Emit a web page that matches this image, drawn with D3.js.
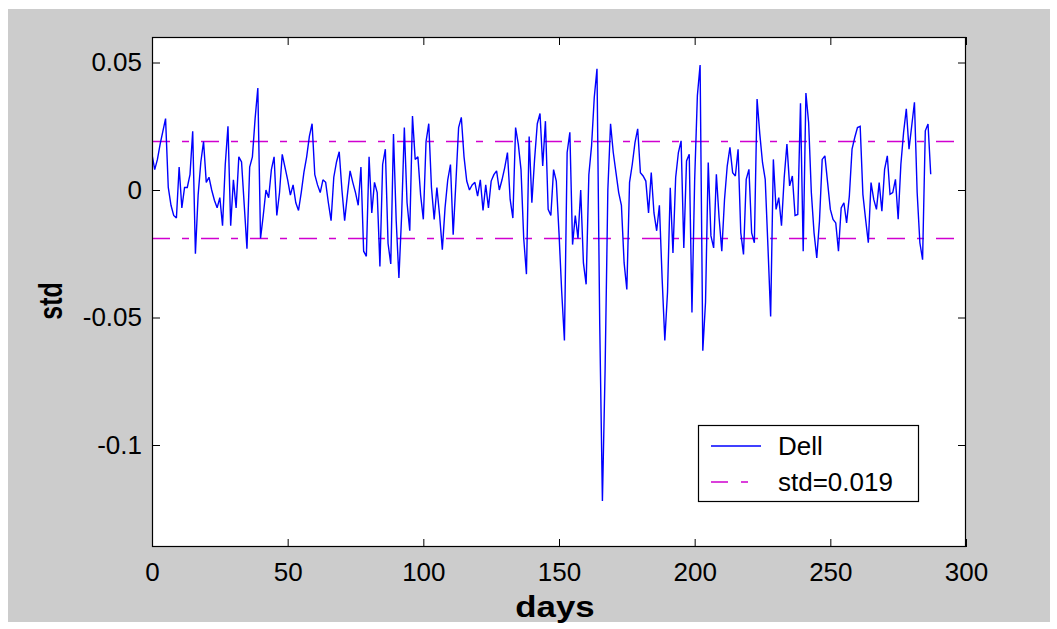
<!DOCTYPE html>
<html>
<head>
<meta charset="utf-8">
<script src="https://cdn.jsdelivr.net/npm/d3@7"></script>
<style>
  html, body { margin: 0; padding: 0; background: #ffffff; }
  svg { display: block; }
  text { font-family: "Liberation Sans", Arial, Helvetica, sans-serif; fill: #000; }
</style>
</head>
<body>
<svg id="chart" width="1057" height="629"></svg>
<script>
// Daily deviation series for Dell, one value per day starting at day 0
const dell = [
  0.014, 0.008, 0.012, 0.018, 0.023, 0.028, 0.001, -0.006, -0.010, -0.011,
  0.009, -0.007, 0.001, 0.001, 0.006, 0.023, -0.025, -0.002, 0.011, 0.019,
  0.003, 0.005, 0.000, -0.004, -0.007, -0.003, -0.014, 0.010, 0.025, -0.014,
  0.004, -0.007, 0.013, 0.011, -0.006, -0.023, 0.009, 0.013, 0.028, 0.040,
  -0.019, -0.010, 0.000, -0.003, 0.008, 0.013, -0.010, -0.001, 0.014, 0.009,
  0.004, -0.002, 0.002, -0.005, -0.008, -0.001, 0.007, 0.013, 0.021, 0.026,
  0.006, 0.002, -0.001, 0.004, 0.003, -0.005, -0.012, 0.005, 0.011, 0.015,
  0.000, -0.012, -0.002, 0.0075, 0.003, -0.001, -0.006, 0.009, -0.024, -0.026,
  0.013, -0.009, 0.003, -0.001, -0.030, 0.010, 0.016, -0.021, -0.029, 0.022,
  -0.012, -0.0345, -0.010, 0.0245, -0.005, -0.016, 0.029, 0.012, 0.013, -0.002,
  -0.0115, 0.019, 0.026, 0.001, -0.0115, 0.001, -0.010, -0.0234, -0.007, 0.004,
  0.010, -0.0175, 0.003, 0.0245, 0.0285, 0.013, 0.0035, 0.000, 0.002, 0.003,
  -0.0024, 0.004, -0.008, 0.002, -0.007, 0.0035, 0.006, 0.0075, 0.000, 0.004,
  0.0088, 0.0147, -0.0037, -0.011, 0.0245, 0.018, 0.008, -0.019, -0.033, 0.021,
  -0.005, 0.012, 0.026, 0.030, 0.0094, 0.027, -0.0076, -0.010, 0.008, 0.0035,
  -0.0168, -0.040, -0.059, 0.0147, 0.0226, -0.0214, -0.010, -0.019, 0.000, -0.0286,
  -0.037, 0.006, 0.0173, 0.0364, 0.0475, -0.052, -0.122, -0.070, 0.000, 0.026,
  0.0147, 0.0068, -0.001, -0.006, -0.0286, -0.039, 0.003, 0.010, 0.0186, 0.024,
  0.0068, 0.0055, 0.0035, -0.009, 0.0068, -0.009, -0.016, -0.006, -0.0345, -0.059,
  -0.040, 0.0009, -0.0247, 0.0049, 0.0147, 0.0193, -0.0227, 0.0114, 0.014, -0.048,
  0.004, 0.037, 0.049, -0.063, -0.044, 0.0108, -0.018, -0.0227, 0.0062, -0.0109,
  -0.024, -0.0037, 0.0094, 0.0167, 0.0068, 0.0055, 0.016, -0.0168, -0.0253, 0.0042,
  0.0081, -0.0168, -0.0207, 0.0357, 0.022, 0.0108, 0.0042, -0.022, -0.0496, 0.012,
  -0.0076, -0.003, -0.014, 0.0049, 0.018, 0.0016, 0.0055, -0.010, -0.0096, 0.034,
  -0.024, 0.038, 0.0265, -0.001, -0.0168, -0.0266, -0.0122, 0.012, 0.0134, 0.0029,
  -0.0076, -0.0115, -0.0129, -0.024, -0.007, -0.005, -0.0129, -0.0024, 0.016, 0.0206,
  0.0245, 0.025, -0.0017, -0.0115, -0.0207, 0.0029, -0.0037, -0.0076, 0.0029, -0.0083,
  0.0081, 0.0134, -0.0017, -0.001, 0.0042, -0.0115, 0.0101, 0.0226, 0.0318, 0.016,
  0.0252, 0.0344, -0.001, -0.0207, -0.0273, 0.0232, 0.0259, 0.0062
];
const days = dell.map((_, i) => i);

// Standard deviation band
const stdValue = 0.019;
const stdLabel = "std=0.019";
const seriesLabel = "Dell";

// Axis ticks
const xTicks = [0, 50, 100, 150, 200, 250, 300];
const xTickLabels = ["0", "50", "100", "150", "200", "250", "300"];
const yTicks = [-0.1, -0.05, 0, 0.05];
const yTickLabels = ["-0.1", "-0.05", "0", "0.05"];
const xLabel = "days";
const yLabel = "std";

const svg = d3.select("#chart");

// grey figure panel
svg.append("rect")
  .attr("x", 8).attr("y", 9)
  .attr("width", 1042).attr("height", 613)
  .attr("fill", "#cccccc");

const plot = { left: 152, right: 966, top: 37, bottom: 547 };

const x = d3.scaleLinear().domain([0, 300]).range([plot.left, plot.right]);
const y = d3.scaleLinear().domain([-0.14, 0.06]).range([plot.bottom, plot.top]);

// axes background
svg.append("rect")
  .attr("x", plot.left).attr("y", plot.top)
  .attr("width", plot.right - plot.left).attr("height", plot.bottom - plot.top)
  .attr("fill", "#ffffff");

svg.append("clipPath").attr("id", "plotClip")
  .append("rect")
  .attr("x", plot.left).attr("y", plot.top)
  .attr("width", plot.right - plot.left).attr("height", plot.bottom - plot.top);

const body = svg.append("g").attr("clip-path", "url(#plotClip)");

// std lines (dash-dot)
const dashPattern = "18,12,7,12";
[stdValue, -stdValue].forEach(v => {
  body.append("line")
    .attr("x1", plot.left).attr("x2", plot.right)
    .attr("y1", y(v)).attr("y2", y(v))
    .attr("stroke", "#d000d0")
    .attr("stroke-width", 1.6)
    .attr("stroke-dasharray", dashPattern);
});

// data line
const line = d3.line()
  .x((d, i) => x(days[i]))
  .y(d => y(d));

body.append("path")
  .datum(dell)
  .attr("d", line)
  .attr("fill", "none")
  .attr("stroke", "#0000ff")
  .attr("stroke-width", 1.4)
  .attr("stroke-linejoin", "miter")
  .attr("stroke-miterlimit", 2);

// axes with inward ticks on all four sides
const tickLen = 8;
const fontSize = 26;

const gx = svg.append("g")
  .attr("transform", `translate(0,${plot.bottom})`)
  .call(d3.axisBottom(x).tickValues(xTicks)
    .tickFormat((d, i) => xTickLabels[i])
    .tickSize(-tickLen).tickPadding(16));

const gy = svg.append("g")
  .attr("transform", `translate(${plot.left},0)`)
  .call(d3.axisLeft(y).tickValues(yTicks)
    .tickFormat((d, i) => yTickLabels[i])
    .tickSize(-tickLen).tickPadding(10));

const gxTop = svg.append("g")
  .attr("transform", `translate(0,${plot.top})`)
  .call(d3.axisTop(x).tickValues(xTicks).tickFormat("").tickSize(-tickLen));

const gyRight = svg.append("g")
  .attr("transform", `translate(${plot.right},0)`)
  .call(d3.axisRight(y).tickValues(yTicks).tickFormat("").tickSize(-tickLen));

[gx, gy, gxTop, gyRight].forEach(g => {
  g.select(".domain").remove();
  g.selectAll(".tick line").attr("stroke", "#000").attr("stroke-width", 1);
  g.selectAll("text")
    .attr("font-size", fontSize)
    .attr("font-family", "'Liberation Sans', Arial, sans-serif")
    .attr("fill", "#000");
});

// axes box
svg.append("rect")
  .attr("x", plot.left + 0.5).attr("y", plot.top + 0.5)
  .attr("width", plot.right - plot.left - 1).attr("height", plot.bottom - plot.top - 1)
  .attr("fill", "none")
  .attr("stroke", "#000")
  .attr("stroke-width", 1.2);

// axis titles (horizontally widened lettering)
svg.append("text")
  .attr("transform", "translate(555,617) scale(1.2,1)")
  .attr("text-anchor", "middle")
  .attr("font-size", 29)
  .attr("font-weight", "bold")
  .text(xLabel);

svg.append("text")
  .attr("transform", "translate(62,301) rotate(-90) scale(1,1.35)")
  .attr("text-anchor", "middle")
  .attr("font-size", 25)
  .attr("font-weight", "bold")
  .text(yLabel);

// legend
const legend = svg.append("g").attr("transform", "translate(698,425)");
legend.append("rect")
  .attr("x", 0.5).attr("y", 0.5)
  .attr("width", 220).attr("height", 76)
  .attr("fill", "#ffffff")
  .attr("stroke", "#000")
  .attr("stroke-width", 1.2);

legend.append("line")
  .attr("x1", 13).attr("x2", 63).attr("y1", 21).attr("y2", 21)
  .attr("stroke", "#0000ff").attr("stroke-width", 1.4);
legend.append("text")
  .attr("x", 80).attr("y", 21).attr("dy", "0.35em")
  .attr("font-size", fontSize)
  .text(seriesLabel);

legend.append("line")
  .attr("x1", 13).attr("x2", 63).attr("y1", 57).attr("y2", 57)
  .attr("stroke", "#d000d0").attr("stroke-width", 1.6)
  .attr("stroke-dasharray", "17,13,7,20");
legend.append("text")
  .attr("x", 80).attr("y", 57).attr("dy", "0.35em")
  .attr("font-size", fontSize)
  .text(stdLabel);
</script>
</body>
</html>
